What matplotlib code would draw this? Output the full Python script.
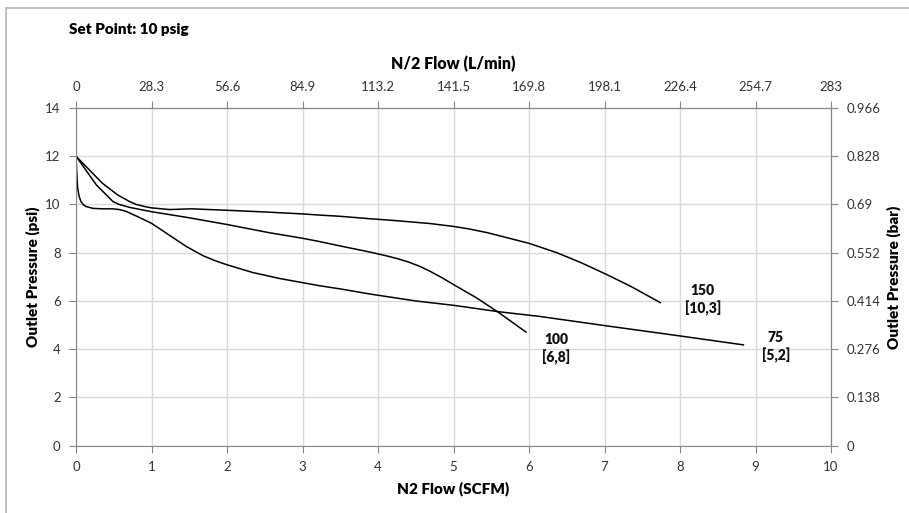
import matplotlib
matplotlib.use('Agg')
from matplotlib import pyplot as plt
from matplotlib.patches import Rectangle

plt.rcParams['font.family'] = ['Lato', 'DejaVu Sans']

# N2 flow (SCFM) vs outlet pressure (psi)
flow_150 = [0, 0.15, 0.35, 0.55, 0.71, 0.8, 0.9, 1.0, 1.24, 1.53, 2.0, 2.5, 3.0, 3.23, 3.5,
            3.89, 4.2, 4.69, 5.0, 5.2, 5.45, 5.7, 6.0, 6.37, 6.68, 7.0, 7.34, 7.74]
psi_150 = [12, 11.52, 10.88, 10.4, 10.12, 10.0, 9.92, 9.86, 9.79, 9.82, 9.76, 9.69, 9.61, 9.56, 9.51,
           9.41, 9.34, 9.21, 9.09, 8.99, 8.83, 8.63, 8.39, 8.0, 7.6, 7.14, 6.62, 5.93]

flow_100 = [0, 0.27, 0.49, 0.574, 0.71, 1.0, 1.46, 2.0, 2.56, 3.0, 3.23, 3.5, 3.89, 4.1,
            4.25, 4.4, 4.55, 4.69, 4.85, 5.0, 5.31, 5.59, 5.96]
psi_100 = [12, 10.81, 10.12, 10.0, 9.88, 9.70, 9.47, 9.17, 8.83, 8.6, 8.46, 8.28, 8.03, 7.88,
           7.76, 7.62, 7.44, 7.23, 6.96, 6.68, 6.12, 5.54, 4.71]

flow_75 = [0, 0.01, 0.02, 0.04, 0.066, 0.1, 0.13, 0.22, 0.35, 0.49, 0.574, 0.66, 0.8, 1.0,
           1.24, 1.46, 1.68, 1.85, 2.0, 2.34, 2.7, 3.0, 3.23, 3.5, 3.89, 4.5, 5.0, 5.61, 6.14,
           7.0, 8.0, 8.84]
psi_75 = [12, 11.3, 10.74, 10.35, 10.12, 9.98, 9.92, 9.84, 9.82, 9.82, 9.79, 9.72, 9.52, 9.22,
          8.72, 8.26, 7.88, 7.66, 7.5, 7.18, 6.93, 6.76, 6.63, 6.5, 6.29, 6.0, 5.82, 5.55, 5.36,
          4.98, 4.55, 4.18]

curve_labels = ['150\n[10,3]', '100\n[6,8]', '75\n[5,2]']
label_pos = [(8.3, 6.03), (6.36, 4.02), (9.27, 4.09)]

top_ticks = ['0', '28.3', '56.6', '84.9', '113.2', '141.5', '169.8', '198.1', '226.4', '254.7', '283']
right_ticks = ['0', '0.138', '0.276', '0.414', '0.552', '0.69', '0.828', '0.966']

fig = plt.figure(figsize=(9.09, 5.13), dpi=100)
ax = fig.add_axes([76 / 909, 1 - 445.7 / 513, 755 / 909, 337.7 / 513])

# chart border
fig.patches.append(Rectangle((6 / 909, -0.1), 1.2, 1.1 - 8 / 513, transform=fig.transFigure,
                             fill=False, edgecolor='#b3b3b3', lw=1.2))

for f, p in [(flow_150, psi_150), (flow_100, psi_100), (flow_75, psi_75)]:
    ax.plot(f, p, color='black', lw=1.1, solid_joinstyle='round')

for txt, (x, y) in zip(curve_labels, label_pos):
    ax.text(x, y, txt, ha='center', va='center', fontsize=10, fontweight='heavy',
            linespacing=1.3, color='#111111')

gray = '#868686'
ax.set_xlim(0, 10)
ax.set_ylim(0, 14)
ax.set_xticks(range(0, 11))
ax.set_yticks(range(0, 15, 2))
ax.grid(True, color='#d9d9d9', lw=1)
ax.set_axisbelow(True)
for s in ax.spines.values():
    s.set_color(gray)
ax.tick_params(length=5, color=gray, labelsize=9.5, labelcolor='#333333', pad=6)

sec_x = ax.secondary_xaxis('top')
sec_x.set_xticks(range(0, 11), labels=top_ticks)
sec_x.tick_params(length=5, color=gray, labelsize=9.5, labelcolor='#333333', pad=6)
sec_x.spines['top'].set_color(gray)

sec_y = ax.secondary_yaxis('right')
sec_y.set_yticks(range(0, 15, 2), labels=right_ticks)
sec_y.tick_params(length=5, color=gray, labelsize=9.5, labelcolor='#333333', pad=6)
sec_y.spines['right'].set_color(gray)

fig.text(69 / 909, 1 - 30 / 513, 'Set Point: 10 psig', ha='left', va='center',
         fontsize=11, fontweight='heavy')
fig.text(453 / 909, 1 - 64 / 513, 'N/2 Flow (L/min)', ha='center', va='center',
         fontsize=11.5, fontweight='heavy')
fig.text(453 / 909, 1 - 489 / 513, 'N2 Flow (SCFM)', ha='center', va='center',
         fontsize=11, fontweight='heavy')
fig.text(33 / 909, 1 - 277 / 513, 'Outlet Pressure (psi)', ha='center', va='center',
         rotation=90, fontsize=11, fontweight='heavy')
fig.text(894 / 909, 1 - 277 / 513, 'Outlet Pressure (bar)', ha='center', va='center',
         rotation=90, fontsize=11, fontweight='heavy')

fig.savefig('out.png', dpi=100)
